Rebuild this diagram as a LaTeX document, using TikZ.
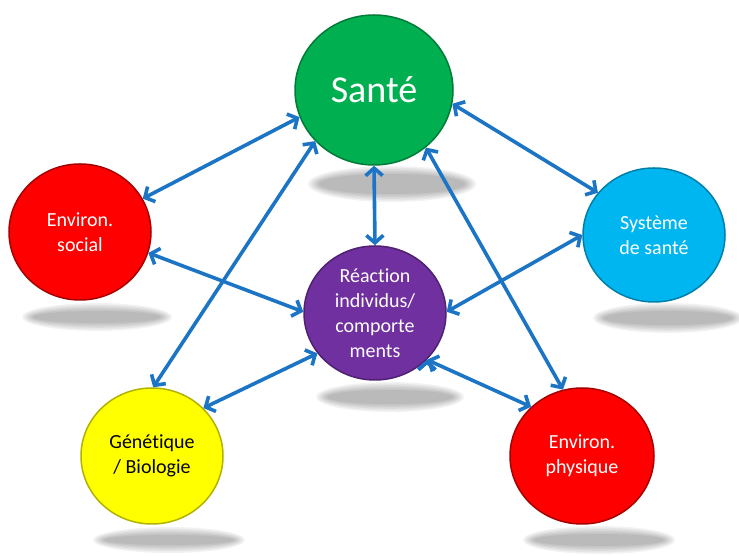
\documentclass[tikz,border=0pt]{standalone}
\usepackage{fontspec}
\setmainfont{Carlito}[Ligatures=NoCommon]
\usepackage{tikz}
\usetikzlibrary{arrows.meta,shapes.geometric}
\usepackage{xcolor}
\definecolor{sgreen}{HTML}{00B050}
\definecolor{sred}{HTML}{FF0000}
\definecolor{scyan}{HTML}{00B6F0}
\definecolor{spurple}{HTML}{7030A0}
\definecolor{syellow}{HTML}{FFFF00}
\definecolor{sblue}{HTML}{1B75C4}
\newcommand{\dropshadow}[4]{%
  \foreach \k in {0,...,5}
    \fill[black, opacity=0.05] (#1,#2) ellipse ({#3-2.2*\k} and {#4-1.6*\k});}

\begin{document}
\begin{tikzpicture}[x=1pt, y=1pt, bubble/.style={ellipse, minimum width=142pt, minimum height=136pt, inner sep=0pt, align=center, font=\fontsize{20}{25}\selectfont, text=white, line width=1.5pt}, link/.style={<->, >={Straight Barb[length=7.5pt,width=17pt]}, line width=3.6pt, draw=sblue, line cap=round, line join=round}]
\useasboundingbox (0,0) rectangle (739,556);
% shadows
\dropshadow{392}{372}{84}{18}
\dropshadow{97}{239}{75}{14}
\dropshadow{668}{238}{75}{15}
\dropshadow{390}{159}{74}{15}
\dropshadow{169}{16}{76}{13}
\dropshadow{599}{16}{76}{14}
% bubbles
\node[bubble, fill=sgreen, draw=sgreen!70!black, minimum width=158pt, minimum height=150pt, font=\fontsize{38}{40}\selectfont] (sante) at (374,466) {Santé};
\node[bubble, fill=sred, draw=sred!65!black] (social) at (80,324) {Environ.\\social};
\node[bubble, fill=scyan, draw=scyan!70!black, minimum height=134pt] (systeme) at (654,321) {Système\\de santé};
\node[bubble, fill=spurple, draw=spurple!70!black, minimum height=134pt] (reaction) at (375,243) {Réaction\\individus/\\comporte\\ments};
\node[bubble, fill=syellow, draw=syellow!70!black, text=black] (genetique) at (152,100) {Génétique\\/ Biologie};
\node[bubble, fill=sred, draw=sred!65!black, minimum width=144pt] (physique) at (582,100) {Environ.\\physique};
% links
\path[link]
(sante.200) edge (social.28)
(sante.221) edge (genetique.89)
(sante.270) edge (reaction.90)
(sante.350) edge (systeme.143)
(sante.312) edge (physique.106)
(social.343) edge (reaction.179)
(systeme.180) edge (reaction.1)
(genetique.43) edge (reaction.215)
(reaction.318) edge (physique.136);
\end{tikzpicture}
\end{document}
